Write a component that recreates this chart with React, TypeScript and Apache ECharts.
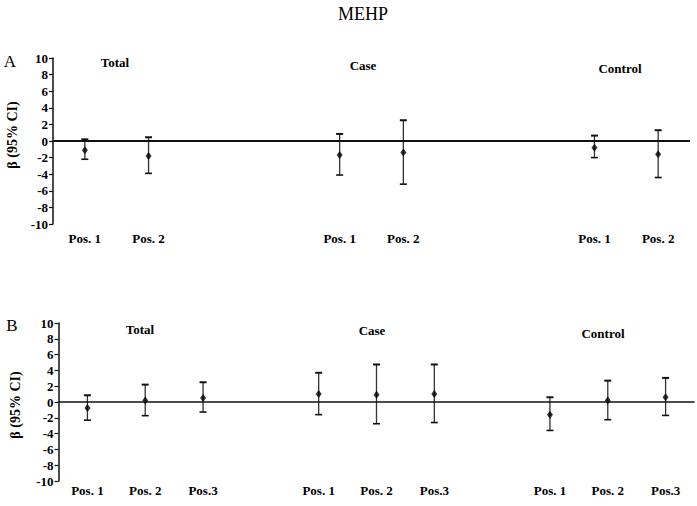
import React, { useEffect, useRef } from "react";
import * as echarts from "echarts";

// Panel A
const catsA = ["Pos. 1", "Pos. 2", "", "", "Pos. 1", "Pos. 2", "", "", "Pos. 1", "Pos. 2"];
const estA = [-1.1, -1.8, null, null, -1.7, -1.4, null, null, -0.8, -1.6];
const lowA = [-2.2, -3.9, null, null, -4.1, -5.2, null, null, -2.0, -4.4];
const highA = [0.2, 0.45, null, null, 0.85, 2.5, null, null, 0.65, 1.3];

// Panel B
const catsB = ["Pos. 1", "Pos. 2", "Pos.3", "", "Pos. 1", "Pos. 2", "Pos.3", "", "Pos. 1", "Pos. 2", "Pos.3"];
const estB = [-0.76, 0.18, 0.5, null, 1.0, 0.93, 1.0, null, -1.6, 0.18, 0.6];
const lowB = [-2.3, -1.73, -1.27, null, -1.6, -2.75, -2.6, null, -3.6, -2.24, -1.7];
const highB = [0.85, 2.2, 2.5, null, 3.7, 4.75, 4.75, null, 0.6, 2.7, 3.05];

const groupNames = ["Total", "Case", "Control"];
const title = "MEHP";
const yName = "β (95% CI)";

const SERIF = "'Liberation Serif', 'DejaVu Serif', serif";

function pts(est: (number | null)[]) {
  return est.map((v, i) => (v === null ? null : [i, v])).filter((d) => d !== null);
}
function bars(low: (number | null)[], high: (number | null)[]) {
  return low
    .map((l, i) => (l === null || high[i] === null ? null : [i, l, high[i]]))
    .filter((d) => d !== null);
}

const renderErr = (params: any, api: any) => {
  const x = api.value(0);
  const lo = api.coord([x, api.value(1)]);
  const hi = api.coord([x, api.value(2)]);
  const cw = 3.5;
  return {
    type: "group",
    children: [
      { type: "line", shape: { x1: hi[0], y1: hi[1], x2: lo[0], y2: lo[1] }, style: { stroke: "#333", lineWidth: 1.3 } },
      { type: "line", shape: { x1: hi[0] - cw, y1: hi[1], x2: hi[0] + cw, y2: hi[1] }, style: { stroke: "#111", lineWidth: 2 } },
      { type: "line", shape: { x1: lo[0] - cw, y1: lo[1], x2: lo[0] + cw, y2: lo[1] }, style: { stroke: "#111", lineWidth: 1.6 } },
    ],
  };
};

function yAxis(gi: number) {
  return {
    type: "value",
    gridIndex: gi,
    min: -10,
    max: 10,
    interval: 2,
    splitLine: { show: false },
    axisLine: { show: true, lineStyle: { color: "#111", width: 1.5 } },
    axisTick: { show: true, length: 4, lineStyle: { color: "#111", width: 1.2 } },
    axisLabel: { fontFamily: SERIF, fontWeight: "bold", fontSize: 13, color: "#000", margin: 5 },
  };
}

function xAxis(gi: number, cats: string[], margin: number) {
  return {
    type: "category",
    gridIndex: gi,
    data: cats,
    boundaryGap: true,
    axisLine: { show: false, onZero: false },
    axisTick: { show: false },
    axisLabel: { interval: 0, fontFamily: SERIF, fontWeight: "bold", fontSize: 13, color: "#000", margin },
  };
}

function panelSeries(gi: number, est: (number | null)[], low: (number | null)[], high: (number | null)[], zw: number) {
  return [
    {
      type: "custom",
      xAxisIndex: gi,
      yAxisIndex: gi,
      renderItem: renderErr,
      data: bars(low, high),
      z: 3,
    },
    {
      type: "scatter",
      xAxisIndex: gi,
      yAxisIndex: gi,
      symbol: "diamond",
      symbolSize: [6, 8],
      itemStyle: { color: "#000" },
      data: pts(est),
      z: 4,
      markLine: {
        silent: true,
        symbol: ["none", "none"],
        label: { show: false },
        lineStyle: { color: "#111", width: zw, type: "solid" },
        data: [{ yAxis: 0 }],
      },
    },
  ];
}

function txt(text: string, x: number, y: number, size: number, bold: boolean, extra: any = {}) {
  return {
    type: "text",
    x,
    y,
    ...extra,
    style: {
      text,
      fontFamily: SERIF,
      fontSize: size,
      fontWeight: bold ? "bold" : "normal",
      fill: "#000",
      textAlign: "center",
      textVerticalAlign: "middle",
    },
  };
}

export default function App() {
  const ref = useRef<HTMLDivElement>(null);
  useEffect(() => {
    if (!ref.current) return;
    const chart = echarts.init(ref.current, null, { renderer: "svg" });
    chart.setOption({
      animation: false,
      backgroundColor: "#fff",
      grid: [
        { left: 53, top: 58, width: 637, height: 166 },
        { left: 58.5, top: 323, width: 636, height: 158 },
      ],
      xAxis: [xAxis(0, catsA, 8), xAxis(1, catsB, 3)],
      yAxis: [yAxis(0), yAxis(1)],
      series: [
        ...panelSeries(0, estA, lowA, highA, 2.2),
        ...panelSeries(1, estB, lowB, highB, 1.6),
      ],
      graphic: [
        txt(title, 363, 14, 18, false),
        txt("A", 10, 61, 17, false),
        txt("B", 12, 325, 17, false),
        txt(yName, 12, 135, 14, true, { rotation: Math.PI / 2 }),
        txt(yName, 15, 405, 14, true, { rotation: Math.PI / 2 }),
        txt(groupNames[0], 115, 62, 13, true),
        txt(groupNames[1], 363, 65, 13, true),
        txt(groupNames[2], 620, 68, 13, true),
        txt(groupNames[0], 140, 329, 13, true),
        txt(groupNames[1], 372, 330, 13, true),
        txt(groupNames[2], 603, 333, 13, true),
      ],
    });
    return () => chart.dispose();
  }, []);
  return (
    <div
      ref={ref}
      style={{ position: "fixed", left: 0, top: 0, width: 697, height: 506, background: "#fff" }}
    />
  );
}
